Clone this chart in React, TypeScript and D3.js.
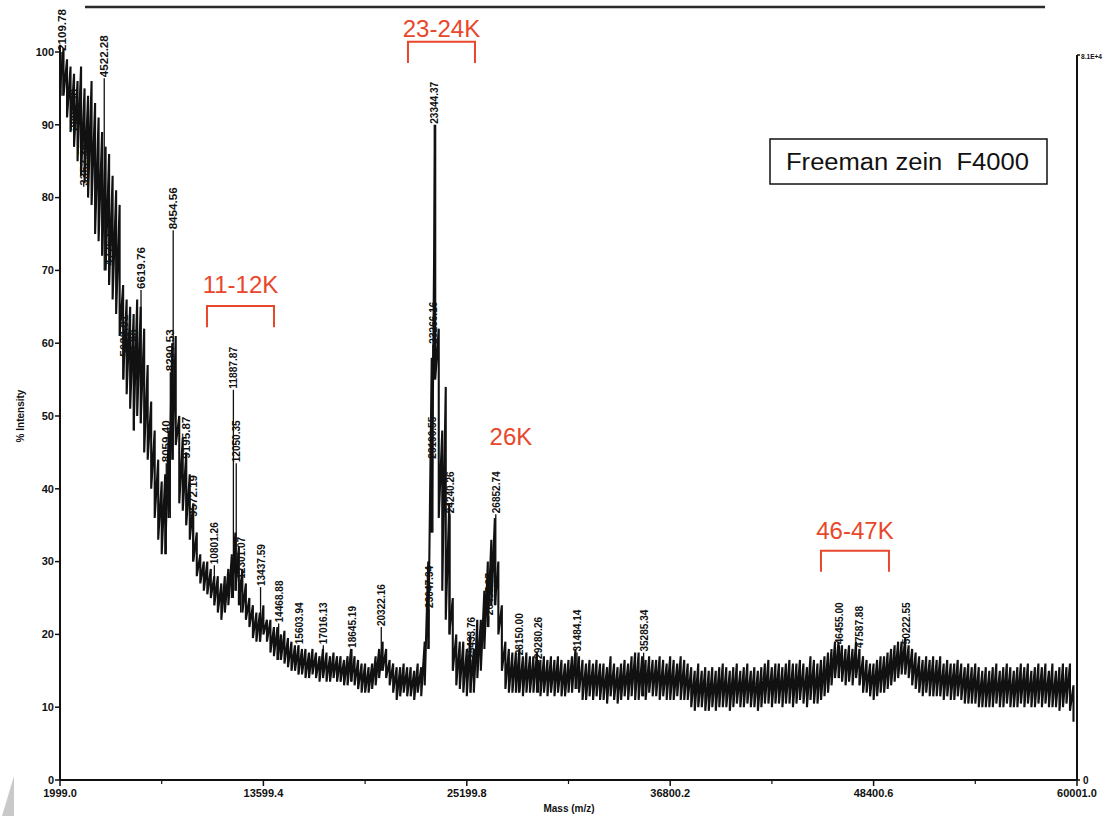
import * as d3 from "d3";

const W = 1107, H = 816;
const FONT = "'Liberation Sans', Arial, Helvetica, sans-serif";
const RED = "#E8472B";
const INK = "#111";

// spectrum envelope, one sample every 200 Da from 2000 Da
const massStart = 2000;
const massStep = 200;
const hiVals = [
  100, 100.5, 99, 98, 97,   96, 98, 95, 94, 96,   93, 91, 89, 87, 86,
  83, 81, 79, 68, 66,   65, 64, 66, 65, 62,   57, 52, 48, 44, 41,
  42, 48, 60, 61, 50,   47, 45, 42, 38, 34,   31, 30, 30, 29, 28,
  28, 27, 28, 29, 31,   34, 32, 29, 27, 25,   24, 23, 23, 24, 22,
  22, 21, 21, 20, 20.5,   19.5, 19, 18.5, 18.5, 18,   18, 17.5, 18, 17.5, 17,
  18, 17.5, 17, 17.5, 17,   17, 16.5, 17, 18, 17,   16.5, 16, 16, 15.5, 16,
  17, 18, 19, 18, 16.5,   16, 15.5, 15.5, 16, 15.5,   15.5, 15, 16, 15.5, 19,
  30, 58, 90, 62, 48,   54, 38, 25, 20, 19,   19, 18, 20, 18, 22,
  22, 26, 30, 33, 36,   30, 24, 19, 18, 17.5,   17.5, 18, 17, 17.5, 17,
  17, 17.5, 16.5, 17, 16.5,   17, 16.5, 17, 16.5, 16,   16.5, 17, 18, 17, 16.5,
  16, 16.5, 16, 16.5, 16,   16, 15.5, 17, 16, 15.5,   16, 16.5, 16, 17, 17.5,
  17.5, 17, 16.5, 17, 16.5,   16.5, 17, 16.5, 16, 17,   16.5, 16, 17, 16.5, 16,
  15.5, 15, 16, 15, 15.5,   15, 15.5, 15, 15.5, 16,   15.5, 15, 15.5, 16, 15,
  15.5, 16, 15, 15.5, 15,   15.5, 16, 16.5, 15.5, 16,   16, 15.5, 16, 16.5, 16,
  16, 16.5, 16, 15.5, 17,   16.5, 16, 16.5, 17, 17.5,   18, 19, 19, 18.5, 18,
  18.5, 18, 19, 18, 17,   16.5, 16, 16, 16.5, 17,   17, 17.5, 18, 18.5, 19,
  19, 19.5, 18.5, 18, 17.5,   17, 16.5, 17, 16.5, 17,   16.5, 17, 16, 16.5, 16,
  16, 16.5, 16, 15.5, 16,   15.5, 16, 15.5, 15, 15.5,   15, 15.5, 16, 15, 15.5,
  16, 15.5, 15, 15.5, 16,   15.5, 16, 15, 15.5, 16,   15.5, 16, 15, 16, 15,
  15.5, 16, 15.5, 16, 13,
];
const loVals = [
  95, 94, 91, 89, 87,   85, 83, 82, 80, 79,   75, 74, 72, 70, 68,
  66, 64, 61, 55, 53,   51, 48, 50, 49, 45,   44, 40, 36, 33, 31,
  31, 36, 44, 46, 38,   37, 35, 33, 30, 28,   27, 26, 25.5, 25, 24,
  23, 22, 23, 24, 25,   26, 24, 23, 22, 21,   19.5, 19, 19, 20, 19,
  17.5, 17, 16.5, 16.5, 16,   15.5, 15, 15, 14.5, 14.5,   14, 14, 14.5, 14, 13.5,
  14, 13.5, 13.5, 14, 13.5,   13.5, 13, 13, 13.5, 13,   12.5, 12, 12, 12, 12.5,
  13, 14, 15, 14, 13,   12, 11, 11.5, 12, 11.5,   11.5, 11, 12, 11.5, 13,
  18, 34, 55, 36, 26,   22, 20, 15, 13, 12.5,   12, 11.5, 12, 12, 14,
  15, 18, 21, 24, 24,   20, 15, 12.5, 12, 12,   12, 12, 11.5, 12, 12,
  12, 12, 11.5, 12, 11.5,   12, 11.5, 12, 11.5, 11.5,   12, 12, 12.5, 12, 11,
  11, 11.5, 11, 11.5, 11,   11, 10.5, 11.5, 11, 10.5,   11, 11.5, 11, 11.5, 11,
  11, 11.5, 11, 12, 11.5,   11.5, 11, 11.5, 11, 11,   11, 11.5, 11, 11, 11,
  10, 9.5, 10, 10, 9.5,   9.5, 10, 9.5, 10, 10,   10, 9.5, 10, 10.5, 10,
  10, 10.5, 10, 10, 9.5,   10, 10.5, 10.5, 10, 10.5,   10.5, 10, 10.5, 10.5, 10,
  10.5, 11, 10.5, 10, 11,   10.5, 10.5, 11, 11.5, 12,   13, 14, 14, 13.5, 13,
  13.5, 13, 14, 13, 12,   12, 11.5, 11, 11.5, 12,   12, 12.5, 13, 13.5, 14,
  14.5, 14.5, 14, 13, 12.5,   12, 11.5, 12, 11.5, 11.5,   11.5, 11.5, 11, 11.5, 11,
  11, 11.5, 11, 10.5, 10.5,   10.5, 10.5, 10, 10, 10,   10, 10, 10.5, 10, 10,
  10.5, 10, 10, 10, 10.5,   10, 10.5, 10, 10, 10.5,   10, 10.5, 10, 10, 10,
  9.5, 10, 10.5, 9.5, 8,
];

// labelled peaks (m/z and % intensity at the apex)
const peakMass = [
  2109.78, 2804.98, 3352.36, 4522.28, 4776.53, 5633.01, 6234.9, 6619.76, 8059.4, 8290.53,
  8454.56, 9195.87, 9572.19, 10801.26, 11887.87, 12050.35, 12301.07, 13437.59, 14468.88,
  15603.94, 17016.13, 18645.19, 20322.16, 23047.34, 23196.55, 23266.16, 23344.37, 24240.26,
  25433.76, 26457.87, 26852.74, 28150.0, 29280.26, 31484.14, 35285.34, 46455.0, 47587.88,
  50222.55,
];
const peakApex = [
  100, 89, 81.5, 96.4, 70.5, 58, 56, 67.3, 43.5, 56,
  75.5, 44, 36, 29.5, 53.6, 43.5, 27.5, 26.5, 21.5,
  18.5, 18.5, 18, 21, 23.5, 44, 59.8, 90, 36.5,
  16.5, 22.5, 36.5, 17, 16.5, 17.5, 17.5, 18.5, 18,
  18.5,
];

const yTicks = [0, 10, 20, 30, 40, 50, 60, 70, 80, 90, 100];
const xTicks = [1999.0, 13599.4, 25199.8, 36800.2, 48400.6, 60001.0];

// red annotations: bracket mass range, bracket top and label baseline (% intensity)
const bracketText = ["11-12K", "23-24K", "46-47K"];
const bracketLo = [10382, 21845, 45399];
const bracketHi = [14203, 25666, 49277];
const bracketTop = [65.1, 101.4, 31.5];
const bracketTextAt = [66.9, 102.1, 33.1];
const loneText = "26K";
const loneMass = 27719;
const loneAt = 46;

export default function App() {
  const x = d3.scaleLinear([1999, 60001], [60, 1077]);
  const y = d3.scaleLinear([0, 100], [780, 52]);
  const masses = hiVals.map((_, i) => massStart + i * massStep);

  let trace = "";
  masses.forEach((m, i) => {
    const px = x(m).toFixed(2);
    trace += `${i ? "L" : "M"}${px},${y(hiVals[i]).toFixed(2)}L${px},${y(loVals[i]).toFixed(2)}`;
  });

  const nearestLo = (m: number) => {
    const i = Math.max(0, Math.min(loVals.length - 1, Math.round((m - massStart) / massStep)));
    return loVals[i];
  };

  const minorX = xTicks.slice(1).map((t, i) => (t + xTicks[i]) / 2);
  const drop = 2.9;

  return (
    <svg width={W} height={H} style={{ position: "absolute", left: 0, top: 0, background: "#fff" }}
      fontFamily={FONT}>
      {/* scan frame line */}
      <line x1={85} x2={1045} y1={7} y2={7} stroke="#2a2a2a" strokeWidth={2.5} />

      {/* spectrum */}
      <path d={trace} fill="none" stroke={INK} strokeWidth={2.1} strokeLinejoin="bevel" />
      {peakMass.map((m, i) => (
        <line key={"s" + i} x1={x(m)} x2={x(m)} y1={y(peakApex[i])} y2={y(nearestLo(m))}
          stroke={INK} strokeWidth={1.3} />
      ))}
      {peakMass.map((m, i) => (
        <text key={"p" + i} transform={`translate(${x(m) + 4},${y(peakApex[i]) - 1}) rotate(-90)`}
          fontSize={11.5} fontWeight="bold" fill={INK} textLength={42}
          lengthAdjust="spacingAndGlyphs">
          {m.toFixed(2)}
        </text>
      ))}

      {/* left axis */}
      <line x1={60} x2={60} y1={y(0)} y2={y(101)} stroke={INK} strokeWidth={2} />
      {yTicks.map((t) => (
        <g key={t}>
          <line x1={55} x2={60} y1={y(t)} y2={y(t)} stroke={INK} strokeWidth={1.5} />
          <text x={54} y={y(t)} dy="0.35em" textAnchor="end" fontSize={11} fontWeight="bold"
            fill={INK}>{t}</text>
        </g>
      ))}
      <text transform={`translate(24,${y(50)}) rotate(-90)`} textAnchor="middle" fontSize={10}
        fontWeight="bold" fill={INK}>% Intensity</text>

      {/* bottom axis */}
      <line x1={60} x2={1077} y1={y(0)} y2={y(0)} stroke={INK} strokeWidth={2} />
      {xTicks.map((t) => (
        <g key={t}>
          <line x1={x(t)} x2={x(t)} y1={y(0)} y2={y(0) + 6} stroke={INK} strokeWidth={1.5} />
          <text x={x(t)} y={797} textAnchor="middle" fontSize={11} fontWeight="bold" fill={INK}>
            {t.toFixed(1)}
          </text>
        </g>
      ))}
      {minorX.map((t) => (
        <line key={t} x1={x(t)} x2={x(t)} y1={y(0)} y2={y(0) + 4} stroke={INK} strokeWidth={1.2} />
      ))}
      <text x={569} y={812} textAnchor="middle" fontSize={10} fontWeight="bold" fill={INK}>
        Mass (m/z)
      </text>

      {/* right axis */}
      <line x1={1077} x2={1077} y1={y(0)} y2={55} stroke={INK} strokeWidth={2} />
      <line x1={1077} x2={1080} y1={55} y2={55} stroke={INK} strokeWidth={1.5} />
      <line x1={1077} x2={1080} y1={y(0)} y2={y(0)} stroke={INK} strokeWidth={1.5} />
      <text x={1081} y={59} fontSize={8} fontWeight="bold" fill={INK} textLength={21}
        lengthAdjust="spacingAndGlyphs">8.1E+4</text>
      <text x={1083} y={y(0) + 4} fontSize={10} fontWeight="bold" fill={INK}>0</text>

      {/* legend box */}
      <rect x={770} y={139} width={277} height={45} fill="#fff" stroke={INK} strokeWidth={1.5} />
      <text x={786} y={170} fontSize={23} fill={INK} style={{ whiteSpace: "pre" }}
        textLength={243} lengthAdjust="spacingAndGlyphs">Freeman zein  F4000</text>

      {/* red annotations */}
      {bracketText.map((s, i) => {
        const x0 = x(bracketLo[i]), x1 = x(bracketHi[i]);
        const yt = y(bracketTop[i]), yb = y(bracketTop[i] - drop);
        return (
          <g key={s}>
            <path d={`M${x0},${yb}V${yt}H${x1}V${yb}`} fill="none" stroke={RED} strokeWidth={2} />
            <text x={(x0 + x1) / 2} y={y(bracketTextAt[i])} textAnchor="middle" fontSize={24}
              fill={RED}>{s}</text>
          </g>
        );
      })}
      <text x={x(loneMass)} y={y(loneAt)} textAnchor="middle" fontSize={24} fill={RED}>{loneText}</text>

      {/* scan artefact in the corner */}
      <path d="M2,816 L14,776 L14,816 Z" fill="#c9c9c9" />
    </svg>
  );
}
